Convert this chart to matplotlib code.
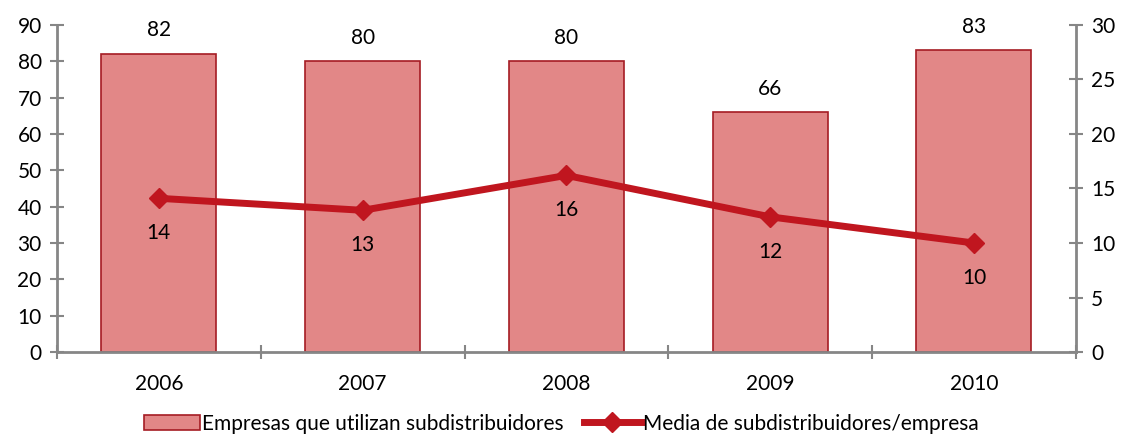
import matplotlib
matplotlib.use('Agg')
import matplotlib.pyplot as plt
import numpy as np

years = ['2006', '2007', '2008', '2009', '2010']
empresas = [82, 80, 80, 66, 83]
media = [14.1, 13.0, 16.2, 12.4, 10.0]
media_labels = ['14', '13', '16', '12', '10']

plt.rcParams['font.family'] = ['Lato', 'DejaVu Sans']
plt.rcParams['font.size'] = 15

bar_color = '#E28787'
bar_edge = '#A51C24'
line_color = '#C0161F'
axis_gray = '#868686'

fig = plt.figure(figsize=(11.22, 4.37), dpi=100)
ax = fig.add_axes([0.0508, 0.1945, 0.908, 0.7483])
ax2 = ax.twinx()

x = np.arange(len(years))
bars = ax.bar(x, empresas, width=0.565, color=bar_color, edgecolor=bar_edge,
              linewidth=1.2, label='Empresas que utilizan subdistribuidores', zorder=2)
for xi, v in zip(x, empresas):
    ax.text(xi, v + 6.5, str(v), ha='center', va='center', fontsize=15)

ax.set_xlim(-0.5, len(years) - 0.5)
ax.set_ylim(0, 90)
ax.set_yticks(range(0, 91, 10))
ax2.set_ylim(0, 30)
ax2.set_yticks(range(0, 31, 5))

ln, = ax2.plot(x, media, color=line_color, linewidth=5, marker='D', markersize=10,
               label='Media de subdistribuidores/empresa', zorder=3)
for xi, v, lab in zip(x, media, media_labels):
    ax2.text(xi, v - 3.2, lab, ha='center', va='center', fontsize=15)

ax.set_xticks(x)
ax.set_xticklabels(years)
ax.set_xticks(np.arange(-0.5, len(years), 1), minor=True)
ax.tick_params(axis='x', which='major', length=0, pad=16)
ax.tick_params(axis='x', which='minor', length=10, direction='inout', color=axis_gray, width=1.5)
ax.tick_params(axis='y', length=10, direction='inout', color=axis_gray, width=1.5, pad=6)
ax2.tick_params(axis='y', length=10, direction='inout', color=axis_gray, width=1.5, pad=6)

for a in (ax, ax2):
    for s in a.spines.values():
        s.set_visible(False)
ax.spines['left'].set_visible(True)
ax.spines['bottom'].set_visible(True)
ax2.spines['right'].set_visible(True)
for s in (ax.spines['left'], ax.spines['bottom'], ax2.spines['right']):
    s.set_color(axis_gray)
    s.set_linewidth(2)

ax.set_zorder(1)
ax2.set_zorder(2)
ax2.patch.set_visible(False)

fig.legend([bars, ln], ['Empresas que utilizan subdistribuidores', 'Media de subdistribuidores/empresa'],
           loc='lower center', bbox_to_anchor=(0.5, -0.035), ncol=2, frameon=False,
           handlelength=2.7, handletextpad=0.1, columnspacing=1.0, fontsize=15)

fig.savefig('out.png', dpi=100)
